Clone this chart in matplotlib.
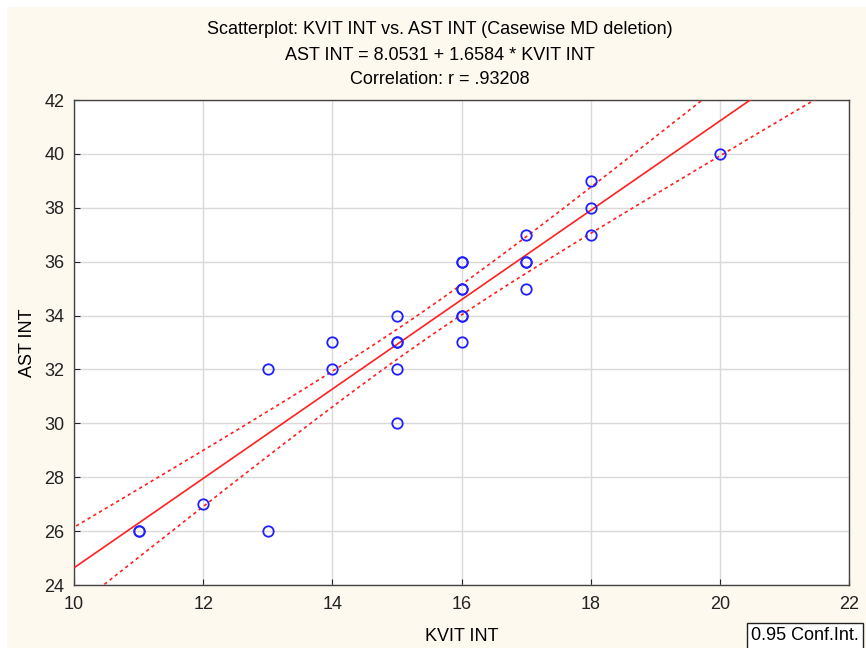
import numpy as np
import matplotlib
matplotlib.use("Agg")
from matplotlib import pyplot as plt
from matplotlib.patches import Rectangle

plt.rcParams['font.family'] = ['Liberation Sans', 'DejaVu Sans']

# KVIT INT / AST INT pairs (repeated cases drawn on top of each other)
kvit = [11, 11, 12, 13, 13, 14, 14, 15, 15, 15, 15, 15,
        16, 16, 16, 16, 16, 16, 16, 17, 17, 17, 17, 18, 18, 18, 20]
ast = [26, 26, 27, 32, 26, 33, 32, 34, 33, 33, 32, 30,
       36, 36, 35, 35, 34, 34, 33, 37, 36, 36, 35, 39, 38, 37, 40]

# regression from the output header
intercept = 8.0531
slope = 1.6584
r_value = .93208
t_crit = 2.06

x = np.asarray(kvit, dtype=float)
y = np.asarray(ast, dtype=float)
n = len(x)
resid = y - (intercept + slope * x)
s = np.sqrt(np.sum(resid ** 2) / (n - 2))
sxx = np.sum((x - x.mean()) ** 2)

xs = np.linspace(9.5, 22.5, 200)
fit = intercept + slope * xs
half = t_crit * s * np.sqrt(1.0 / n + (xs - x.mean()) ** 2 / sxx)

fs = 13

fig = plt.figure(figsize=(8.66, 6.48), dpi=100, facecolor='white')
fig.patches.append(Rectangle((7 / 866, 0), 1, 1 - 7 / 648, transform=fig.transFigure,
                             facecolor='#fdf9ef', edgecolor='none', zorder=-10))

ax = fig.add_axes([74 / 866, 1 - 585 / 648, 775 / 866, 485 / 648])
ax.set_facecolor('white')

ax.plot(xs, fit, color='#ff2020', lw=1.2, zorder=3)
ax.plot(xs, fit + half, color='#ff2020', lw=1.2, dashes=(2, 2), zorder=3)
ax.plot(xs, fit - half, color='#ff2020', lw=1.2, dashes=(2, 2), zorder=3)
ax.plot(x, y, 'o', ms=7.5, mfc='none', mec='#1f1fff', mew=1.3, zorder=4)

ax.set_xlim(10, 22)
ax.set_ylim(24, 42)
ax.set_xticks(np.arange(10, 23, 2))
ax.set_yticks(np.arange(24, 43, 2))
ax.grid(True, color='#d9d9d9', lw=1)
ax.set_axisbelow(True)
ax.tick_params(direction='in', length=4, labelsize=fs, colors='#222222')
ax.tick_params(axis='x', pad=8)
ax.tick_params(axis='y', pad=7)
for sp in ax.spines.values():
    sp.set_color('#444444')
    sp.set_linewidth(1)

ax.set_xlabel('KVIT INT', fontsize=fs, labelpad=11)
ax.set_ylabel('AST INT', fontsize=fs, labelpad=6)

fig.text(440 / 866, 1 - 30 / 648, 'Scatterplot: KVIT INT vs. AST INT (Casewise MD deletion)',
         ha='center', va='center', fontsize=fs)
fig.text(440 / 866, 1 - 55 / 648, 'AST INT = %.4f + %.4f * KVIT INT' % (intercept, slope),
         ha='center', va='center', fontsize=fs)
fig.text(440 / 866, 1 - 79 / 648, 'Correlation: r = %s' % ('%.5f' % r_value)[1:],
         ha='center', va='center', fontsize=fs)

fig.text(805 / 866, 1 - 636 / 648, '0.95 Conf.Int.', ha='center', va='center', fontsize=fs,
         bbox=dict(boxstyle='square,pad=0.25', facecolor='white', edgecolor='#222222', lw=1))

fig.savefig('out.png', dpi=100, facecolor=fig.get_facecolor())
